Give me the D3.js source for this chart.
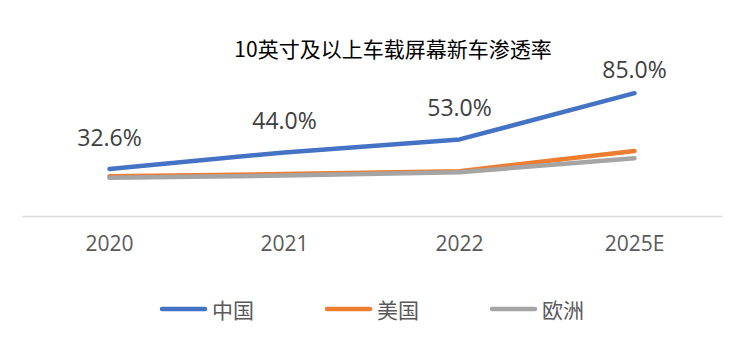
<!DOCTYPE html>
<html>
<head>
<meta charset="utf-8">
<script src="https://cdn.jsdelivr.net/npm/d3@7"></script>
<style>
  html, body { margin: 0; padding: 0; background: #fff; }
  svg { display: block; }
  text { font-family: "Open Sans", "Noto Sans CJK SC", sans-serif; }
</style>
</head>
<body>
<div id="chart"></div>
<script>
const title = "10英寸及以上车载屏幕新车渗透率";
const categories = ["2020", "2021", "2022", "2025E"];
const seriesNames = ["中国", "美国", "欧洲"];
const chinaValues = [32.6, 44.0, 53.0, 85.0];
const usValues = [27.5, 29.0, 31.0, 45.0];
const europeValues = [26.4, 28.0, 30.3, 40.0];
const seriesColors = ["#4472C4", "#ED7D31", "#A5A5A5"];

const W = 756, H = 354;
const svg = d3.select("#chart").append("svg").attr("width", W).attr("height", H);

const plotLeft = 22, plotRight = 722, plotTop = 71.5, plotBottom = 216;
const x = d3.scaleBand().domain(categories).range([plotLeft, plotRight]).padding(0);
const y = d3.scaleLinear().domain([0, 100]).range([plotBottom, plotTop]);

// Title
svg.append("text")
  .attr("x", 393).attr("y", 57)
  .attr("text-anchor", "middle")
  .style("font-family", "'Noto Sans CJK SC', sans-serif")
  .style("font-size", "21px")
  .attr("fill", "#000")
  .text(title);

// X axis
const xAxis = svg.append("g").attr("transform", `translate(0,${plotBottom})`)
  .call(d3.axisBottom(x).tickSize(0).tickPadding(20));
xAxis.select(".domain").attr("stroke", "#D9D9D9").attr("stroke-width", 1.5);
xAxis.selectAll("text")
  .style("font-size", "21px")
  .style("font-family", "'Open Sans', sans-serif")
  .attr("fill", "#595959");

const series = [
  { name: seriesNames[0], values: chinaValues, color: seriesColors[0] },
  { name: seriesNames[1], values: usValues, color: seriesColors[1] },
  { name: seriesNames[2], values: europeValues, color: seriesColors[2] }
];

const line = d3.line()
  .x((d, i) => x(categories[i]) + x.bandwidth() / 2)
  .y(d => y(d));

svg.append("g").selectAll("path")
  .data(series)
  .join("path")
  .attr("d", s => line(s.values))
  .attr("fill", "none")
  .attr("stroke", s => s.color)
  .attr("stroke-width", 4.5)
  .attr("stroke-linecap", "round")
  .attr("stroke-linejoin", "round");

// Data labels for China
svg.append("g").selectAll("text")
  .data(chinaValues)
  .join("text")
  .attr("x", (d, i) => x(categories[i]) + x.bandwidth() / 2)
  .attr("y", d => Math.max(y(d) - 23, plotTop + 6.5))
  .attr("text-anchor", "middle")
  .style("font-size", "23px")
  .attr("fill", "#404040")
  .text(d => d.toFixed(1) + "%");

// Legend
const legendX = [162, 327, 492];
const lg = svg.append("g").selectAll("g")
  .data(series)
  .join("g")
  .attr("transform", (d, i) => `translate(${legendX[i]},309)`);
lg.append("line")
  .attr("x1", 0).attr("x2", 43).attr("y1", 0).attr("y2", 0)
  .attr("stroke", d => d.color)
  .attr("stroke-width", 4.5)
  .attr("stroke-linecap", "round");
lg.append("text")
  .attr("x", 50).attr("y", 9)
  .style("font-family", "'Noto Sans CJK SC', sans-serif")
  .style("font-size", "21px")
  .attr("fill", "#595959")
  .text(d => d.name);
</script>
</body>
</html>
